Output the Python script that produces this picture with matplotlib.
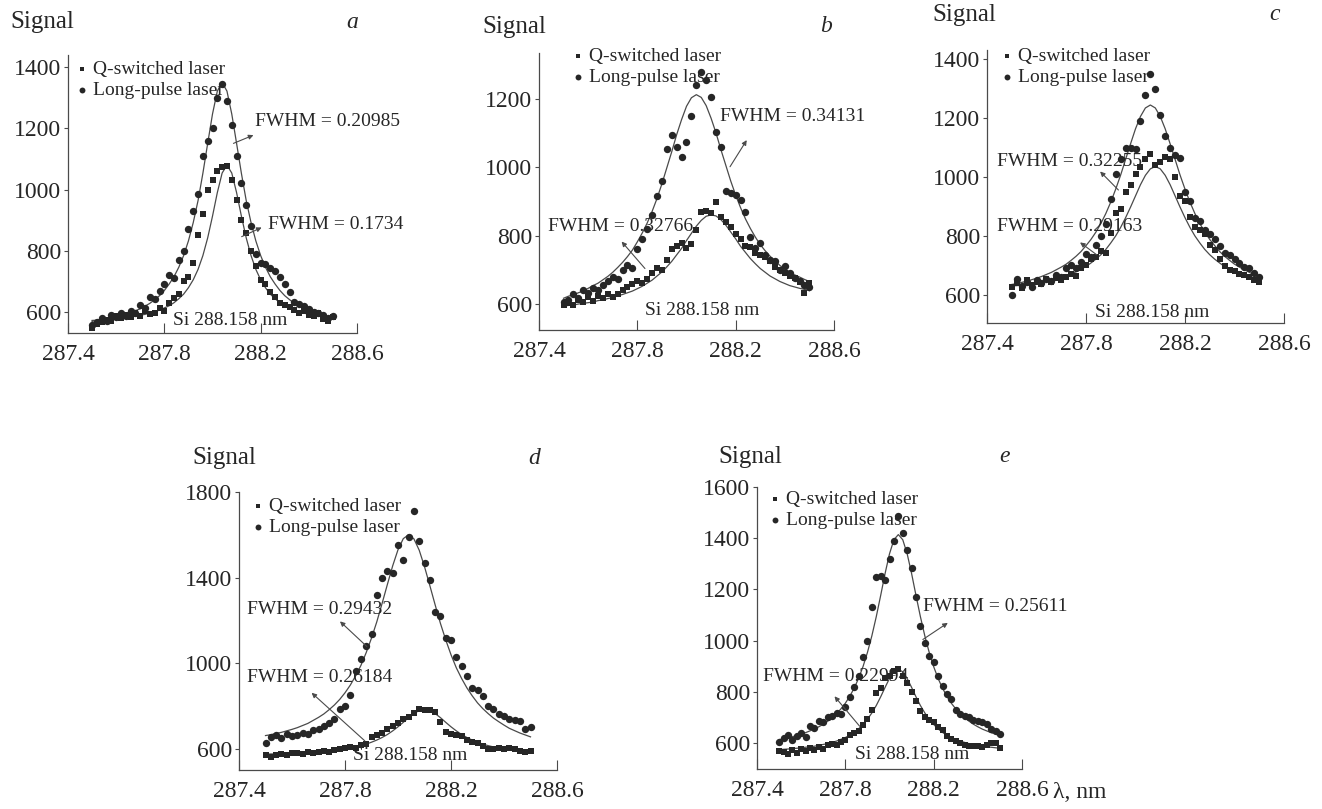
import matplotlib
matplotlib.use("Agg")
import matplotlib.pyplot as plt

# wavelength grid of the spectrometer (nm)
WL = [287.50, 287.52, 287.54, 287.56, 287.58, 287.60, 287.62, 287.64, 287.66, 287.68,
      287.70, 287.72, 287.74, 287.76, 287.78, 287.80, 287.82, 287.84, 287.86, 287.88,
      287.90, 287.92, 287.94, 287.96, 287.98, 288.00, 288.02, 288.04, 288.06, 288.08,
      288.10, 288.12, 288.14, 288.16, 288.18, 288.20, 288.22, 288.24, 288.26, 288.28,
      288.30, 288.32, 288.34, 288.36, 288.38, 288.40, 288.42, 288.44, 288.46, 288.48,
      288.50]

# ---- panel a ----
A_LONG = [556, 568, 579, 571, 590, 582, 597, 588, 604, 596, 622, 612, 650, 641, 668, 690, 720,
          712, 770, 800, 870, 930, 985, 1110, 1160, 1200, 1300, 1345, 1290, 1210, 1110, 1020,
          950, 880, 790, 760, 755, 745, 735, 715, 690, 665, 632, 625, 618, 608, 600, 595, 590,
          580, 586]
A_LONG_FIT = [569, 572, 574, 577, 580, 584, 588, 592, 597, 604, 610, 619, 628, 640, 653, 670,
              691, 715, 746, 784, 832, 892, 964, 1053, 1151, 1247, 1322, 1350, 1322, 1247, 1151,
              1053, 964, 892, 832, 784, 746, 715, 691, 670, 653, 640, 628, 619, 610, 604, 597,
              592, 588, 584, 580]
A_Q = [548, 560, 566, 575, 571, 585, 579, 590, 583, 596, 588, 602, 594, 598, 612, 604, 630, 645,
       660, 700, 715, 760, 850, 920, 1000, 1030, 1060, 1075, 1078, 1030, 965, 900, 858, 800, 750,
       705, 690, 665, 650, 628, 622, 615, 605, 598, 603, 590, 585, 596, 578, 570, 582]
A_Q_FIT = [572, 573, 574, 575, 577, 578, 580, 581, 584, 586, 589, 592, 596, 600, 606, 613, 620,
           630, 643, 658, 679, 705, 739, 784, 842, 913, 990, 1054, 1080, 1054, 990, 913, 842, 784,
           739, 705, 679, 658, 643, 630, 620, 613, 606, 600, 596, 592, 589, 586, 584, 581, 580]

# ---- panel b ----
B_LONG = [605, 612, 630, 618, 640, 632, 648, 640, 655, 668, 680, 672, 700, 715, 705, 760, 790,
          820, 860, 915, 960, 1055, 1095, 1060, 1030, 1075, 1150, 1240, 1280, 1255, 1205, 1105,
          1060, 930, 925, 920, 905, 870, 795, 765, 780, 745, 730, 725, 700, 712, 690, 676, 668,
          655, 650]
B_LONG_FIT = [617, 623, 627, 633, 638, 646, 654, 661, 671, 681, 693, 707, 722, 739, 758, 782,
              808, 837, 871, 909, 952, 999, 1046, 1096, 1140, 1179, 1204, 1213, 1205, 1181, 1144,
              1101, 1052, 1006, 960, 919, 882, 849, 821, 796, 774, 756, 740, 726, 713, 703, 694,
              685, 679, 672, 666]
B_Q = [598, 603, 596, 612, 605, 620, 610, 625, 618, 630, 622, 628, 640, 650, 660, 668, 662, 672,
       690, 705, 700, 730, 762, 770, 778, 765, 775, 818, 870, 872, 868, 900, 856, 840, 825, 805,
       790, 770, 768, 750, 745, 738, 725, 708, 700, 690, 682, 675, 665, 632, 662]
B_Q_FIT = [594, 596, 597, 600, 602, 604, 606, 610, 612, 616, 619, 624, 628, 633, 638, 645, 652,
           661, 670, 682, 694, 709, 725, 744, 763, 786, 807, 828, 845, 857, 861, 858, 847, 831,
           811, 791, 769, 751, 733, 718, 704, 693, 682, 674, 666, 660, 654, 650, 646, 643, 639]

# ---- panel c ----
C_LONG = [598, 655, 630, 645, 628, 650, 640, 655, 648, 668, 660, 690, 700, 690, 712, 740, 730,
          770, 800, 840, 925, 1010, 1060, 1098, 1100, 1095, 1190, 1280, 1350, 1300, 1210, 1140,
          1100, 1075, 1064, 950, 920, 860, 850, 820, 808, 790, 765, 742, 735, 722, 708, 695, 690,
          675, 660]
C_LONG_FIT = [635, 638, 642, 646, 651, 656, 662, 669, 676, 685, 694, 704, 717, 731, 747, 767,
              788, 813, 842, 876, 915, 959, 1007, 1060, 1113, 1164, 1206, 1235, 1245, 1235, 1206,
              1164, 1113, 1060, 1007, 959, 915, 876, 842, 813, 788, 767, 747, 731, 717, 704, 694,
              685, 676, 669, 662]
C_Q = [628, 640, 622, 650, 632, 645, 636, 652, 644, 658, 650, 662, 672, 665, 690, 700, 720, 728,
       748, 742, 810, 878, 890, 950, 972, 1012, 1035, 1062, 1080, 1040, 1050, 1068, 1060, 1000,
       935, 920, 865, 832, 820, 805, 770, 752, 720, 698, 685, 680, 672, 668, 662, 650, 645]
C_Q_FIT = [630, 631, 633, 636, 638, 641, 644, 647, 651, 655, 660, 665, 671, 678, 687, 696, 708,
           721, 736, 754, 776, 800, 829, 862, 898, 936, 974, 1006, 1028, 1036, 1028, 1006, 974,
           936, 898, 862, 829, 800, 776, 754, 736, 721, 708, 696, 687, 678, 671, 665, 660, 655,
           651]

# ---- panel d ----
D_LONG = [628, 655, 662, 650, 668, 660, 665, 672, 668, 685, 690, 705, 722, 740, 785, 800, 850,
          965, 1020, 1080, 1135, 1320, 1400, 1430, 1420, 1550, 1480, 1590, 1710, 1570, 1470, 1390,
          1240, 1220, 1115, 1110, 1030, 985, 940, 885, 875, 845, 800, 785, 760, 752, 740, 735,
          728, 692, 700]
D_LONG_FIT = [661, 665, 671, 676, 683, 690, 698, 708, 718, 732, 746, 762, 782, 804, 830, 861,
              897, 940, 989, 1049, 1117, 1193, 1279, 1368, 1455, 1530, 1582, 1600, 1581, 1528,
              1451, 1363, 1273, 1186, 1109, 1039, 978, 928, 884, 847, 814, 787, 764, 743, 726,
              710, 695, 684, 673, 664, 655]
D_Q = [572, 560, 568, 575, 570, 578, 580, 576, 582, 579, 585, 590, 586, 595, 598, 602, 608, 605,
       615, 620, 655, 662, 675, 690, 705, 722, 738, 750, 765, 785, 782, 780, 770, 725, 680, 668,
       665, 658, 640, 632, 628, 610, 600, 598, 602, 596, 605, 598, 588, 585, 590]
D_Q_FIT = [574, 575, 575, 576, 577, 578, 579, 580, 582, 583, 585, 587, 590, 592, 596, 599, 603,
           608, 614, 621, 630, 640, 652, 666, 683, 702, 723, 745, 764, 778, 783, 778, 764, 745,
           723, 702, 683, 666, 652, 640, 630, 621, 614, 608, 603, 599, 596, 592, 590, 587, 585]

# ---- panel e ----
E_LONG = [605, 620, 632, 612, 628, 640, 624, 665, 660, 685, 680, 700, 705, 718, 712, 740, 780,
          820, 860, 935, 1000, 1130, 1250, 1252, 1235, 1320, 1390, 1485, 1420, 1355, 1285, 1170,
          1055, 990, 940, 915, 862, 822, 790, 770, 730, 712, 705, 700, 690, 684, 680, 672, 655,
          645, 635]
E_LONG_FIT = [613, 616, 620, 624, 629, 634, 640, 647, 654, 663, 673, 685, 698, 714, 733, 755,
              782, 814, 852, 898, 953, 1018, 1093, 1176, 1262, 1339, 1394, 1414, 1394, 1339, 1262,
              1176, 1093, 1018, 953, 898, 852, 814, 782, 755, 733, 714, 698, 685, 673, 663, 654,
              647, 640, 634, 629]
E_Q = [570, 565, 558, 572, 562, 575, 568, 580, 574, 585, 578, 590, 596, 592, 605, 612, 632, 640,
       648, 670, 692, 728, 795, 815, 852, 862, 880, 890, 862, 835, 800, 765, 725, 700, 690, 680,
       662, 650, 628, 615, 608, 600, 592, 588, 586, 588, 585, 590, 598, 600, 582]
E_Q_FIT = [574, 575, 576, 578, 579, 581, 583, 585, 587, 590, 594, 597, 602, 607, 614, 621, 630,
           641, 655, 672, 692, 717, 746, 780, 817, 852, 878, 887, 878, 852, 817, 780, 746, 717,
           692, 672, 655, 641, 630, 621, 614, 607, 602, 597, 594, 590, 587, 585, 583, 581, 579]

X_TICKS = [287.4, 287.8, 288.2, 288.6]
X_LABELS = ["287.4", "287.8", "288.2", "288.6"]

# ---- layout (pixels of the 1322x809 canvas) ----
W, H = 1322, 809
INK = "#262626"
LINE = "#4a4a4a"
SERIF = ["Liberation Serif", "DejaVu Serif"]

panels = [
    dict(letter="a", box=(68, 357, 55, 333), ylim=(531, 1440), yticks=[600, 800, 1000, 1200, 1400],
         long=A_LONG, long_fit=A_LONG_FIT, q=A_Q, q_fit=A_Q_FIT,
         signal=(10, 22), tag=(358, 22), leg=(77, 60),
         notes=[("FWHM = 0.20985", (288.177, 1221), (288.087, 1151), (288.170, 1178)),
                ("FWHM = 0.1734", (288.232, 887), (288.121, 846), (288.204, 876))],
         si=(287.837, 573)),
    dict(letter="b", box=(539, 834, 53, 330), ylim=(524, 1335), yticks=[600, 800, 1000, 1200],
         long=B_LONG, long_fit=B_LONG_FIT, q=B_Q, q_fit=B_Q_FIT,
         signal=(482, 27), tag=(832, 27), leg=(573, 47),
         notes=[("FWHM = 0.34131", (288.136, 1149), (288.177, 1002), (288.245, 1080)),
                ("FWHM = 0.32766", (287.438, 826), (287.831, 704), (287.736, 783))],
         si=(287.831, 582)),
    dict(letter="c", box=(987, 1284, 50, 323), ylim=(504, 1432), yticks=[600, 800, 1000, 1200, 1400],
         long=C_LONG, long_fit=C_LONG_FIT, q=C_Q, q_fit=C_Q_FIT,
         signal=(932, 15), tag=(1280, 15), leg=(1002, 47),
         notes=[("FWHM = 0.32255", (287.439, 1053), (287.931, 956), (287.857, 1019)),
                ("FWHM = 0.29163", (287.439, 832), (287.843, 736), (287.776, 778))],
         si=(287.836, 538)),
    dict(letter="d", box=(239, 557, 492, 770), ylim=(500, 1800), yticks=[600, 1000, 1400, 1800],
         long=D_LONG, long_fit=D_LONG_FIT, q=D_Q, q_fit=D_Q_FIT,
         signal=(192, 458), tag=(540, 458), leg=(253, 497),
         notes=[("FWHM = 0.29432", (287.429, 1249), (287.882, 1078), (287.781, 1195)),
                ("FWHM = 0.26184", (287.429, 931), (287.875, 636), (287.674, 861))],
         si=(287.831, 566)),
    dict(letter="e", box=(757, 1022, 487, 769), ylim=(498, 1600),
         yticks=[600, 800, 1000, 1200, 1400, 1600],
         long=E_LONG, long_fit=E_LONG_FIT, q=E_Q, q_fit=E_Q_FIT,
         signal=(718, 457), tag=(1010, 457), leg=(770, 490),
         notes=[("FWHM = 0.25611", (288.151, 1134), (288.151, 1004), (288.264, 1069)),
                ("FWHM = 0.22994", (287.427, 860), (287.865, 665), (287.751, 782))],
         si=(287.842, 555)),
]

plt.rcParams["font.family"] = SERIF
plt.rcParams["text.color"] = INK
plt.rcParams["axes.edgecolor"] = LINE
plt.rcParams["xtick.color"] = LINE
plt.rcParams["ytick.color"] = LINE

fig = plt.figure(figsize=(W / 100, H / 100), dpi=100)

for p in panels:
    l, r, t, b = p["box"]
    ax = fig.add_axes([l / W, 1 - b / H, (r - l) / W, (b - t) / H])

    ax.plot(WL, p["long_fit"], color=LINE, lw=0.9, zorder=2)
    ax.plot(WL, p["q_fit"], color=LINE, lw=0.9, zorder=2)
    hq = ax.scatter(WL, p["q"], marker="s", s=20, color=INK, lw=0, zorder=3)
    hl = ax.scatter(WL, p["long"], marker="o", s=28, color=INK, lw=0, zorder=3)

    ax.set_xlim(287.4, 288.6)
    ax.set_ylim(*p["ylim"])
    ax.set_xticks(X_TICKS)
    ax.set_xticklabels(X_LABELS)
    ax.set_yticks(p["yticks"])
    ax.tick_params(axis="x", direction="in", length=7, width=0.8, pad=8,
                   labelsize=17, labelcolor=INK)
    ax.tick_params(axis="y", direction="out", length=3, width=0.8, pad=2,
                   labelsize=17, labelcolor=INK)
    for s in ("top", "right"):
        ax.spines[s].set_visible(False)
    for s in ("left", "bottom"):
        ax.spines[s].set_linewidth(0.9)

    for txt, pos, tail, head in p["notes"]:
        ax.text(pos[0], pos[1], txt, fontsize=14, ha="left", va="center")
        ax.annotate("", xy=head, xytext=tail,
                    arrowprops=dict(arrowstyle="-|>", color=LINE, lw=0.8,
                                    mutation_scale=7, shrinkA=0, shrinkB=0))
    ax.text(p["si"][0], p["si"][1], "Si 288.158 nm", fontsize=14, ha="left", va="center")

    lx, ly = p["leg"]
    ax.legend([hq, hl], ["Q-switched laser", "Long-pulse laser"],
              loc="upper left", bbox_to_anchor=(lx / W, 1 - ly / H),
              bbox_transform=fig.transFigure, frameon=False, fontsize=14,
              borderpad=0, borderaxespad=0, handlelength=0.5, handletextpad=0.3,
              labelspacing=0.2, markerscale=0.8)

    sx, sy = p["signal"]
    fig.text(sx / W, 1 - sy / H, "Signal", fontsize=18, ha="left", va="center")
    tx, ty = p["tag"]
    fig.text(tx / W, 1 - ty / H, p["letter"], fontsize=17, style="italic",
             ha="right", va="center")

fig.text(1053 / W, 1 - 792 / H, "λ, nm", fontsize=17, ha="left", va="center")

fig.savefig("out.png", dpi=100, facecolor="white")
